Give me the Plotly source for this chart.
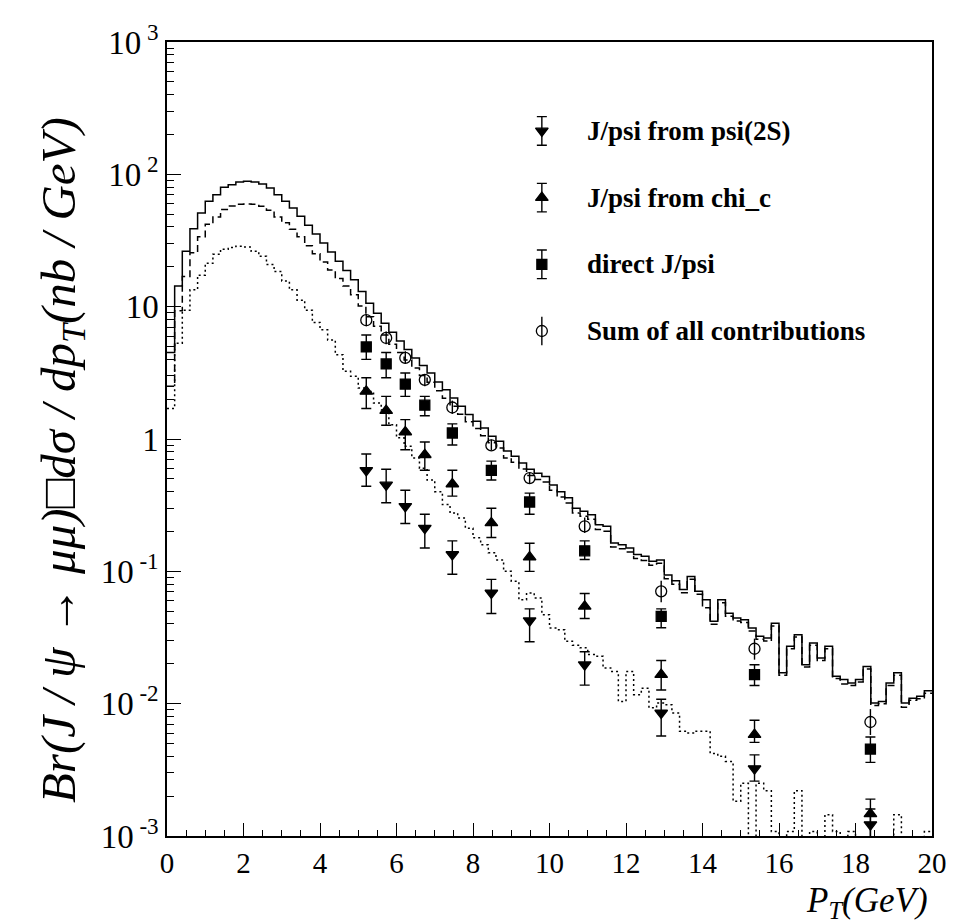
import numpy as np
import plotly.graph_objects as go

# ---------------- data ----------------
PT_MIN, PT_MAX, N_BINS = 0.0, 20.0, 100

# histogram contents per 0.2 GeV bin
sum_hist = [4.5, 14.3, 26.2, 38.8, 51, 62.5, 70, 79.8, 83.5, 87.5,
            88.5, 87.5, 84.5, 78.8, 70, 62.5, 55.7, 48.2, 41.2, 35.4,
            30.3, 25.9, 22.0, 18.8, 16.0, 13.0, 10.6, 8.9, 7.5, 6.4,
            5.5, 4.75, 4.1, 3.6, 3.15, 2.7, 2.36, 2.04, 1.77, 1.53,
            1.36, 1.21, 1.05, 0.96, 0.81, 0.74, 0.66, 0.59, 0.55, 0.52,
            0.45, 0.40, 0.36, 0.30, 0.284, 0.268, 0.225, 0.219, 0.164, 0.159,
            0.150, 0.134, 0.130, 0.119, 0.122, 0.094, 0.085, 0.073, 0.0916, 0.0706,
            0.0611, 0.0419, 0.0611, 0.0482, 0.0444, 0.0431, 0.0373, 0.0323, 0.0313, 0.0406,
            0.0171, 0.0271, 0.0332, 0.0197, 0.0287, 0.0221, 0.0271, 0.0161, 0.0152, 0.0143,
            0.0152, 0.0191, 0.0101, 0.0104, 0.0143, 0.0171, 0.0101, 0.0110, 0.0114, 0.0125]

dashed_hist = [2.5, 9.3, 16.9, 25.6, 33.7, 41.9, 47.6, 54.3, 57.6, 59.5,
               59.7, 59.5, 57.5, 53.6, 47.6, 43.1, 38.4, 33.7, 28.8, 25.1,
               21.8, 18.9, 16.3, 14.3, 12.3, 10.1, 8.4, 7.1, 6.1, 5.2,
               4.5, 3.95, 3.44, 3.02, 2.68, 2.32, 2.03, 1.77, 1.54, 1.35,
               1.20, 1.06, 0.935, 0.854, 0.72, 0.666, 0.594, 0.531, 0.495, 0.473,
               0.41, 0.364, 0.328, 0.276, 0.261, 0.247, 0.207, 0.201, 0.153, 0.148,
               0.140, 0.125, 0.121, 0.111, 0.115, 0.088, 0.080, 0.069, 0.087, 0.067,
               0.053, 0.0398, 0.058, 0.0458, 0.0422, 0.041, 0.0354, 0.0307, 0.0297, 0.0386,
               0.0164, 0.026, 0.0319, 0.0189, 0.0276, 0.0212, 0.026, 0.0155, 0.0141, 0.0137,
               0.0146, 0.0183, 0.0097, 0.010, 0.0137, 0.0164, 0.0094, 0.0106, 0.0109, 0.012]

dotted_hist = [1.7, 5.3, 9.4, 13.4, 17.3, 21.3, 24.9, 27.2, 28.0, 28.6,
               28.2, 26.2, 24.0, 20.8, 18.4, 15.6, 13.4, 11.2, 9.4, 7.6,
               6.7, 5.6, 4.33, 3.25, 2.98, 2.43, 2.29, 1.87, 1.66, 1.28,
               1.02, 0.88, 0.72, 0.60, 0.49, 0.40, 0.32, 0.276, 0.253, 0.212,
               0.179, 0.159, 0.138, 0.122, 0.100, 0.084, 0.061, 0.0686, 0.063, 0.047,
               0.0373, 0.0362, 0.0296, 0.0276, 0.0264, 0.0235, 0.0228, 0.0186, 0.0175, 0.0104,
               0.0175, 0.0117, 0.0131, 0.0093, 0.0101, 0.0098, 0.0085, 0.0062, 0.0060, 0.0062,
               0.0062, 0.0042, 0.0040, 0.00366, 0.00183, 0.0025, 0, 0.0025, 0.0022, 0.00108,
               0, 0.00108, 0.0022, 0, 0.00108, 0, 0.00145, 0.00108, 0, 0.00108,
               0, 0, 0, 0, 0, 0.00145, 0, 0, 0, 0.00108]

# measured points
pt_points = [5.21, 5.73, 6.23, 6.74, 7.46, 8.48, 9.48, 10.92, 12.92, 15.36, 18.39]

psi2s_val = [0.58, 0.45, 0.31, 0.212, 0.134, 0.0686, 0.0424, 0.0197, 0.0085, 0.00323, 0.00122]
psi2s_hi = [0.77, 0.59, 0.41, 0.27, 0.17, 0.087, 0.052, 0.0247, 0.0108, 0.0041, 0.0016]
psi2s_lo = [0.44, 0.33, 0.23, 0.15, 0.095, 0.048, 0.0294, 0.0138, 0.0057, 0.0026, 0.0006]

chic_val = [2.29, 1.64, 1.13, 0.76, 0.457, 0.232, 0.128, 0.0544, 0.0166, 0.00583, 0.00147]
chic_hi = [2.9, 2.1, 1.4, 0.95, 0.58, 0.30, 0.163, 0.068, 0.0212, 0.0075, 0.0019]
chic_lo = [1.7, 1.27, 0.83, 0.58, 0.37, 0.18, 0.10, 0.044, 0.0127, 0.0051, 0.0009]

direct_val = [4.96, 3.69, 2.6, 1.80, 1.11, 0.58, 0.334, 0.143, 0.0457, 0.0166, 0.00454]
direct_hi = [6.1, 4.5, 3.15, 2.1, 1.3, 0.68, 0.39, 0.17, 0.052, 0.0197, 0.0056]
direct_lo = [4.0, 2.9, 2.1, 1.5, 0.9, 0.49, 0.27, 0.123, 0.0375, 0.0137, 0.0036]

sum_val = [7.9, 5.8, 4.1, 2.8, 1.73, 0.895, 0.507, 0.219, 0.0706, 0.026, 0.00727]
sum_hi = [8.8, 6.5, 4.6, 3.1, 1.95, 0.99, 0.56, 0.255, 0.085, 0.031, 0.0091]
sum_lo = [7.1, 5.2, 3.7, 2.5, 1.55, 0.82, 0.46, 0.195, 0.0585, 0.0215, 0.0058]

legend_names = ["J/psi from psi(2S)", "J/psi from chi_c", "direct J/psi",
                "Sum of all contributions"]

x_tick_vals = [0, 2, 4, 6, 8, 10, 12, 14, 16, 18, 20]
y_tick_vals = [1e-3, 1e-2, 1e-1, 1, 10, 100, 1000]
y_tick_text = ["10<sup> -3</sup>", "10<sup> -2</sup>", "10<sup> -1</sup>", "1", "10",
               "10<sup> 2</sup>", "10<sup> 3</sup>"]

# ---------------- figure ----------------
SERIF = "Liberation Serif"
edges = np.linspace(PT_MIN, PT_MAX, N_BINS + 1)
FLOOR = 1e-6  # empty bins fall below the axis


def step_trace(vals, dash):
    y = [v if v > 0 else FLOOR for v in vals]
    return go.Scatter(x=list(edges), y=y + [y[-1]], mode="lines", line_shape="hv",
                      line=dict(color="black", width=1.5, dash=dash),
                      showlegend=False, hoverinfo="skip")


fig = go.Figure()
fig.add_trace(step_trace(dotted_hist, "2px,3px"))
fig.add_trace(step_trace(dashed_hist, "7px,4px"))
fig.add_trace(step_trace(sum_hist, "solid"))

SERIES = [
    (legend_names[0], psi2s_val, psi2s_hi, psi2s_lo, "triangle-down", 11, 5),
    (legend_names[1], chic_val, chic_hi, chic_lo, "triangle-up", 11, 5),
    (legend_names[2], direct_val, direct_hi, direct_lo, "square", 10, 5),
    (legend_names[3], sum_val, sum_hi, sum_lo, "circle-open", 11, 0),
]

for name, vals, hi, lo, symbol, size, capw in SERIES:
    plus = [h - v for h, v in zip(hi, vals)]
    minus = [v - l for v, l in zip(vals, lo)]
    fig.add_trace(go.Scatter(
        x=pt_points, y=vals, mode="markers", name=name, showlegend=False,
        marker=dict(symbol=symbol, size=size, color="black",
                    line=dict(color="black", width=1.3)),
        error_y=dict(type="data", symmetric=False, array=plus, arrayminus=minus,
                     color="black", thickness=1.4, width=capw),
    ))

# hand-made legend (keys with error bars, as in the original) on an overlay frame
LEG_KEY_X = 0.49
LEG_TEXT_X = 0.547
LEG_ROW_Y = [0.888, 0.804, 0.720, 0.636]
LEG_BAR = 0.018
for (name, vals, hi, lo, symbol, size, capw), ry in zip(SERIES, LEG_ROW_Y):
    fig.add_trace(go.Scatter(
        x=[LEG_KEY_X], y=[ry], xaxis="x2", yaxis="y2", mode="markers",
        showlegend=False, hoverinfo="skip",
        marker=dict(symbol=symbol, size=size, color="black",
                    line=dict(color="black", width=1.3)),
        error_y=dict(type="constant", value=LEG_BAR, color="black",
                     thickness=1.4, width=capw),
    ))

minor_y = [m * 10.0 ** e for e in range(-3, 3) for m in range(2, 10)]

annotations = [
    dict(text="<i>Br(J / ψ → μμ)□dσ / dp<sub>T</sub>(nb / GeV)</i>",
         xref="paper", yref="paper", x=-0.138, y=0.474, textangle=-90,
         showarrow=False, xanchor="center", yanchor="middle",
         font=dict(family=SERIF, size=49, color="black")),
    dict(text="<i>P<sub>T</sub>(GeV)</i>",
         xref="paper", yref="paper", x=0.997, y=-0.113,
         showarrow=False, xanchor="right", yanchor="bottom",
         font=dict(family=SERIF, size=35, color="black")),
]
for name, ry in zip(legend_names, LEG_ROW_Y):
    annotations.append(dict(text="<b>" + name + "</b>", xref="paper", yref="paper",
                            x=LEG_TEXT_X, y=ry, xanchor="left", yanchor="middle",
                            showarrow=False,
                            font=dict(family=SERIF, size=27, color="black")))

fig.update_layout(
    width=958, height=924,
    margin=dict(l=159, r=34, t=34, b=96),
    paper_bgcolor="white", plot_bgcolor="white",
    font=dict(family=SERIF, color="black"),
    showlegend=False,
    xaxis=dict(range=[PT_MIN, PT_MAX], tickvals=x_tick_vals, ticks="inside",
               ticklen=13, tickwidth=1, tickcolor="black",
               showline=True, linecolor="black", linewidth=1.5, mirror=True,
               showgrid=False, zeroline=False,
               tickfont=dict(family=SERIF, size=29, color="black"),
               minor=dict(dtick=0.5, ticks="inside", ticklen=6, tickcolor="black",
                          showgrid=False)),
    yaxis=dict(type="log", range=[-3, 3], tickvals=y_tick_vals, ticktext=y_tick_text,
               ticks="inside", ticklen=14, tickwidth=1, tickcolor="black",
               showline=True, linecolor="black", linewidth=1.5, mirror=True,
               showgrid=False, zeroline=False,
               tickfont=dict(family=SERIF, size=33, color="black"),
               minor=dict(tickvals=minor_y, ticks="inside", ticklen=7, tickcolor="black",
                          showgrid=False)),
    xaxis2=dict(overlaying="x", range=[0, 1], visible=False, fixedrange=True),
    yaxis2=dict(overlaying="y", range=[0, 1], visible=False, fixedrange=True),
    annotations=annotations,
)

fig.write_html("out.html")
